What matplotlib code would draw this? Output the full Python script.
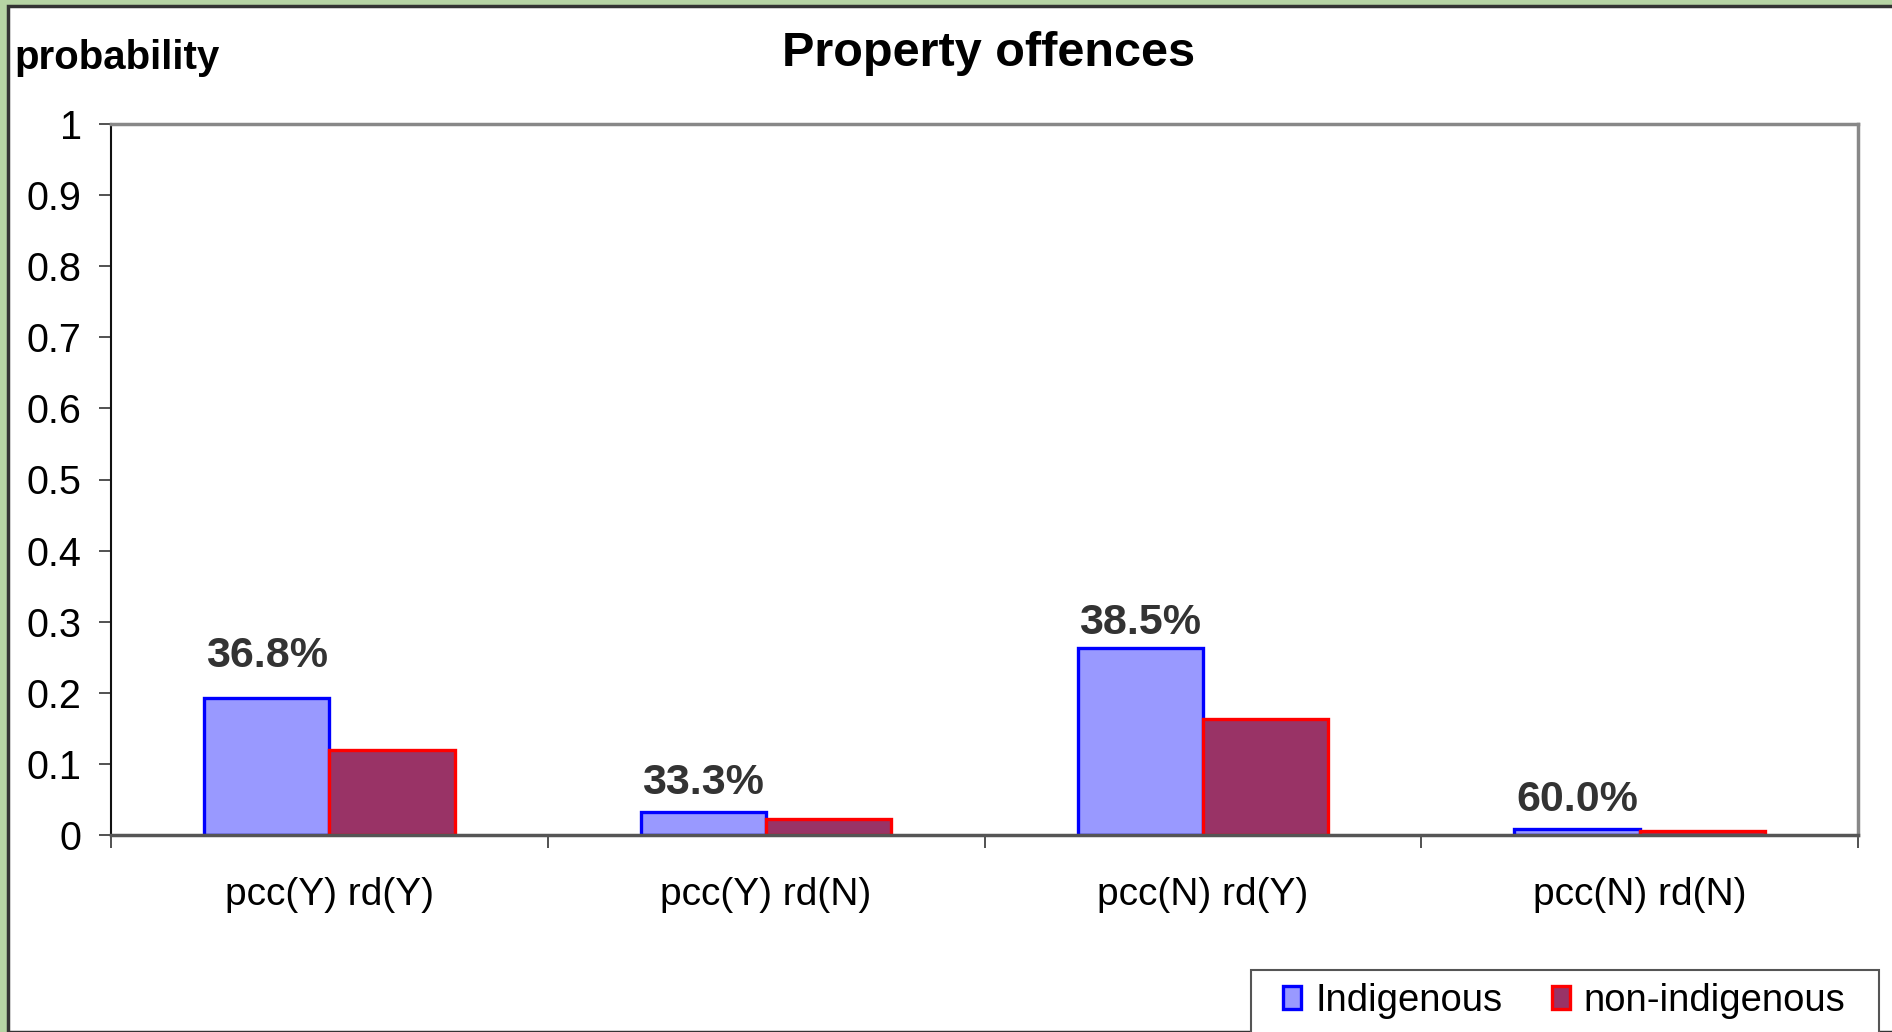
import matplotlib.pyplot as plt
from matplotlib.patches import Rectangle
import numpy as np

# dados
categorias = ['pcc(Y) rd(Y)', 'pcc(Y) rd(N)', 'pcc(N) rd(Y)', 'pcc(N) rd(N)']
indigenous = [0.193, 0.032, 0.263, 0.009]
non_indigenous = [0.119, 0.022, 0.163, 0.005]
rotulos = ['36.8%', '33.3%', '38.5%', '60.0%']
yticks = [0, 0.1, 0.2, 0.3, 0.4, 0.5, 0.6, 0.7, 0.8, 0.9, 1]
ytick_labels = ['0', '0.1', '0.2', '0.3', '0.4', '0.5', '0.6', '0.7', '0.8', '0.9', '1']

plt.rcParams['font.family'] = ['Liberation Sans', 'DejaVu Sans']

W, H = 1892, 1032
fig = plt.figure(figsize=(W / 100, H / 100), dpi=100)
fig.patch.set_facecolor('#b6d4a4')

# painel branco com borda escura (fundo do slide)
painel = Rectangle((8 / W, 0), 1, 1 - 6 / H, transform=fig.transFigure,
                   facecolor='white', edgecolor='#333333', linewidth=2.5, zorder=-5)
fig.patches.append(painel)

ax = fig.add_axes([111 / W, 1 - 835 / H, (1858 - 111) / W, (835 - 124) / H])
ax.set_facecolor('white')

x = np.arange(len(categorias))
largura = 0.287
b1 = ax.bar(x - largura / 2, indigenous, largura, color='#9999ff', edgecolor='#0000ff',
            linewidth=2.4, label='Indigenous', zorder=3)
b2 = ax.bar(x + largura / 2, non_indigenous, largura, color='#993366', edgecolor='#ff0000',
            linewidth=2.4, label='non-indigenous', zorder=3)

# rotulos de porcentagem acima das barras indigenas (deslocamento em pontos)
desloc = [22, 13, 10, 13]
for i, txt in enumerate(rotulos):
    ax.annotate(txt, (x[i] - largura / 2, indigenous[i]), xytext=(0, desloc[i]),
                textcoords='offset points', ha='center', va='baseline',
                fontsize=31, fontweight='bold', color='#333333')

ax.set_xlim(-0.5, len(categorias) - 0.5)
ax.set_ylim(0, 1)
ax.set_yticks(yticks)
ax.set_yticklabels(ytick_labels)
ax.tick_params(axis='y', direction='out', length=9, width=1.2, pad=12, labelsize=28.5,
               color='#333333')

# ticks do eixo x nas divisas, rotulos no centro
ax.set_xticks(np.arange(len(categorias) + 1) - 0.5)
ax.set_xticklabels([])
ax.tick_params(axis='x', which='major', direction='out', length=9, width=1.2, color='#333333')
ax.set_xticks(x, minor=True)
ax.set_xticklabels(categorias, minor=True)
ax.tick_params(axis='x', which='minor', length=0, pad=30, labelsize=28)

ax.spines['left'].set_color('#111111')
ax.spines['left'].set_linewidth(1.5)
ax.spines['bottom'].set_color('#555555')
ax.spines['bottom'].set_linewidth(2.5)
ax.spines['bottom'].set_zorder(4)
for s in ['top', 'right']:
    ax.spines[s].set_color('#888888')
    ax.spines[s].set_linewidth(2.5)

fig.text(989 / W, 1 - 53 / H, 'Property offences', ha='center', va='center',
         fontsize=35, fontweight='bold')
fig.text(14 / W, 1 - 58 / H, 'probability', ha='left', va='center',
         fontsize=29, fontweight='bold')

# moldura da legenda (cortada pela borda inferior, como no original)
moldura = Rectangle((1251 / W, -0.05), (1879 - 1251) / W, 0.05 + (1032 - 970) / H,
                    transform=fig.transFigure, facecolor='white', edgecolor='#555555',
                    linewidth=1.5, zorder=5)
fig.patches.append(moldura)

leg = fig.legend(handles=[b1, b2], loc='center left', bbox_to_anchor=(1283 / W, 1 - 1001 / H),
                 ncol=2, fontsize=27.5, frameon=False, handlelength=0.48,
                 handleheight=0.55, handletextpad=0.36, columnspacing=1.3,
                 borderpad=0, borderaxespad=0)
leg.set_zorder(6)

fig.savefig('out.png', dpi=100, facecolor=fig.get_facecolor())
